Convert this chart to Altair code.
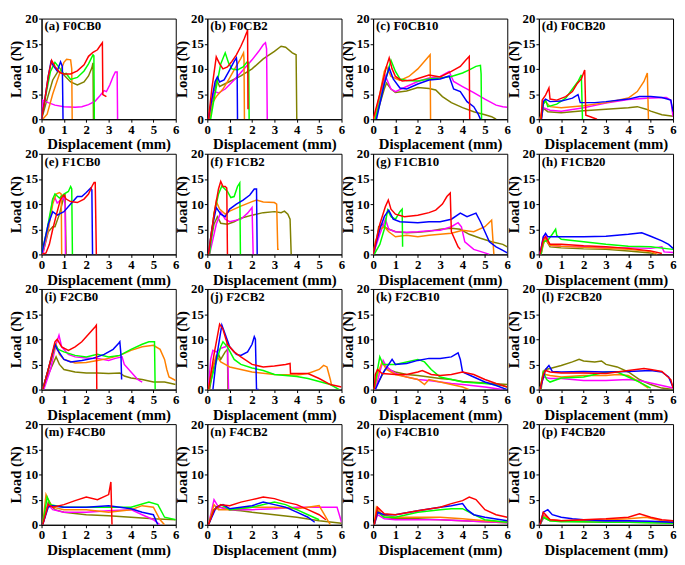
import altair as alt
import pandas as pd

COLORS = ["olive", "magenta", "orange", "green", "blue", "red"]
HEX = ["#808000", "#FF00FF", "#FF8000", "#00FF00", "#0000FF", "#FF0000"]

LABELS = ["(a) F0CB0", "(b) F0CB2", "(c) F0CB10", "(d) F0CB20",
          "(e) F1CB0", "(f) F1CB2", "(g) F1CB10", "(h) F1CB20",
          "(i) F2CB0", "(j) F2CB2", "(k) F2CB10", "(l) F2CB20",
          "(m) F4CB0", "(n) F4CB2", "(o) F4CB10", "(p) F4CB20"]

X_TICKS = [0, 1, 2, 3, 4, 5, 6]
Y_TICKS = [0, 5, 10, 15, 20]

A = {
    "red": [[0, 0], [0.15, 4], [0.3, 8.5], [0.45, 11.7], [0.6, 10.5], [0.8, 9.3], [1.0, 9.0], [1.3, 9.0], [1.6, 9.6], [1.9, 10.8], [2.1, 12.5], [2.3, 13.3], [2.5, 13.8], [2.62, 14.6], [2.72, 15.2], [2.74, 4.9], [2.9, 4.5]],
    "blue": [[0, 0], [0.15, 4], [0.3, 8.5], [0.42, 11.4], [0.55, 10.5], [0.7, 9.6], [0.85, 11.4], [0.93, 10.5], [0.96, 0]],
    "orange": [[0.05, 0], [0.25, 1], [0.5, 5], [0.8, 9], [1.0, 11.3], [1.12, 11.9], [1.3, 11.8], [1.35, 10], [1.37, 0]],
    "green": [[0, 0], [0.2, 5], [0.4, 9.5], [0.6, 11.3], [0.8, 10.2], [1.0, 9.0], [1.1, 9.1], [1.3, 7.9], [1.6, 8.3], [1.9, 9.6], [2.1, 11], [2.3, 12.8], [2.34, 12.6], [2.36, 0]],
    "olive": [[0, 0], [0.25, 4], [0.5, 7.8], [0.75, 9.6], [1.0, 8.8], [1.3, 7.4], [1.6, 6.8], [1.9, 7.4], [2.1, 8.6], [2.25, 10.2], [2.3, 11.2], [2.32, 0]],
    "magenta": [[0, 0], [0.05, 3.8], [0.3, 3.3], [0.6, 2.8], [1.0, 2.5], [1.5, 2.4], [1.8, 2.5], [2.1, 2.9], [2.4, 3.6], [2.6, 4.6], [2.8, 5.7], [2.9, 5.5], [3.05, 6.8], [3.2, 8.5], [3.3, 9.4], [3.38, 9.4], [3.4, 0]],
}
B = {
    "red": [[0.05, 0], [0.2, 6], [0.4, 12.4], [0.55, 11], [0.7, 10], [0.9, 10.4], [1.1, 11.5], [1.3, 12.8], [1.5, 14.5], [1.65, 16], [1.78, 17.5], [1.8, 17.8], [1.82, 2]],
    "green": [[0.15, 0], [0.3, 4], [0.45, 7.5], [0.6, 11], [0.8, 13.2], [0.95, 11.2], [1.1, 10], [1.35, 9.8], [1.6, 10.4], [1.8, 11.5], [1.85, 11], [1.87, 0]],
    "blue": [[0.05, 0], [0.2, 4], [0.35, 7.5], [0.45, 8.4], [0.55, 7.4], [0.75, 7.8], [1.0, 9.8], [1.2, 11.5], [1.3, 12.2], [1.33, 11], [1.35, 0]],
    "orange": [[0.1, 0], [0.2, 3], [0.4, 4.5], [0.7, 6], [1.0, 8.2], [1.3, 10.6], [1.5, 12.1], [1.62, 13.2], [1.64, 12], [1.66, 0]],
    "magenta": [[0.05, 0], [0.15, 3], [0.3, 5.5], [0.5, 5.2], [0.8, 6], [1.2, 7.8], [1.6, 9.8], [2.0, 11.8], [2.3, 13.5], [2.5, 14.8], [2.6, 15.2], [2.65, 14], [2.68, 0]],
    "olive": [[0.1, 0], [0.3, 5], [0.42, 7.8], [0.55, 6.5], [1.0, 7.5], [1.5, 8.6], [2.0, 10], [2.5, 12], [3.0, 13.5], [3.3, 14.5], [3.5, 14.3], [3.8, 13.2], [3.97, 12.8], [4.0, 0]],
}
C = {
    "red": [[0, 0], [0.3, 5], [0.6, 10.5], [0.72, 12.2], [0.85, 10], [1.0, 8.5], [1.3, 7.6], [1.8, 7.8], [2.5, 8.8], [3.0, 8.4], [3.5, 9.5], [3.9, 10.5], [4.1, 11.5], [4.3, 12.5], [4.32, 0]],
    "orange": [[0.05, 0], [0.3, 5], [0.5, 9.5], [0.6, 10.5], [0.8, 8.5], [1.2, 7.7], [1.6, 8.5], [2.0, 10], [2.3, 11.5], [2.55, 12.8], [2.57, 0]],
    "green": [[0.1, 0], [0.5, 7], [0.8, 11.7], [1.0, 9.5], [1.2, 8], [1.5, 7.7], [2.0, 7.6], [2.5, 8], [3.0, 8.2], [3.5, 8.5], [4.0, 9.2], [4.3, 9.8], [4.6, 10.5], [4.8, 10.7], [4.83, 9], [4.85, 0]],
    "blue": [[0.15, 0], [0.5, 7], [0.72, 10.2], [0.9, 8], [1.2, 6.2], [1.5, 6], [2.0, 7], [2.5, 7.8], [3.0, 8], [3.4, 8.6], [3.6, 6], [3.9, 5.5], [4.2, 3.5], [4.5, 2.5], [4.7, 1], [4.8, 0]],
    "magenta": [[0.05, 0], [0.3, 4.5], [0.55, 8.6], [0.8, 6], [1.0, 5.5], [1.5, 6.5], [2.0, 7.5], [2.5, 8.2], [3.0, 8.5], [3.4, 9.5], [3.6, 7.5], [4.0, 6.5], [4.5, 5.3], [5.0, 4], [5.5, 2.8], [5.8, 2.5], [6.0, 2.4]],
    "olive": [[0.1, 0], [0.5, 6], [0.6, 7.2], [0.8, 6], [1.0, 5.3], [1.5, 5.6], [2.0, 6.3], [2.5, 6.1], [2.8, 5.8], [3.1, 4.5], [3.5, 3.3], [4.0, 2.3], [4.5, 1.5], [5.0, 0.9], [5.3, 0.5], [5.5, 0]],
}
D = {
    "red": [[0.1, 0], [0.15, 3.8], [0.3, 4.8], [0.45, 6.2], [0.5, 4], [0.8, 3.8], [1.2, 4.5], [1.5, 5.5], [1.7, 7], [1.9, 8], [2.05, 9.8], [2.1, 0.8], [2.3, 0.5], [2.6, 0]],
    "green": [[0.1, 0], [0.2, 3], [0.3, 3.8], [0.4, 2.5], [0.8, 3], [1.2, 4.2], [1.5, 6], [1.75, 7.5], [1.9, 8.8], [1.95, 0]],
    "blue": [[0.12, 0], [0.2, 3.5], [0.3, 4], [0.5, 3.5], [1.0, 3.6], [1.5, 4.2], [1.75, 4.9], [1.85, 3.3], [2.5, 3.3], [3.0, 3.5], [4.0, 4], [4.5, 4.5], [5.0, 4.5], [5.5, 4.3], [5.9, 3.8], [6.0, 1.5]],
    "orange": [[0.05, 0], [0.2, 3], [0.3, 3.5], [0.5, 2.5], [1.0, 2.3], [2.0, 2.7], [3.0, 3.3], [4.0, 4.2], [4.4, 5.5], [4.7, 7.5], [4.85, 9.2], [4.9, 0]],
    "magenta": [[0.05, 0], [0.2, 2.3], [0.5, 1.8], [1.0, 1.6], [2.0, 2.3], [3.0, 3.2], [4.0, 3.9], [5.0, 4.2], [5.7, 4.3], [5.9, 3.8], [6.0, 0.5]],
    "olive": [[0.1, 0], [0.2, 2.2], [0.4, 1.5], [1.0, 1.3], [2.0, 1.7], [3.0, 2.0], [4.0, 2.3], [4.4, 2.5], [4.8, 2.0], [5.0, 1.6], [5.5, 0.9], [6.0, 0.6]],
}
E = {
    "red": [[0, 0], [0.2, 0.3], [0.35, 2], [0.5, 5], [0.7, 8.5], [0.85, 11], [1.0, 11.8], [1.1, 11], [1.3, 10.5], [1.6, 10.3], [1.9, 11], [2.1, 12], [2.25, 13.5], [2.35, 14.3], [2.4, 14.3], [2.45, 0]],
    "blue": [[0, 0], [0.1, 2], [0.3, 6], [0.5, 8.5], [0.7, 7.8], [1.0, 8.5], [1.3, 10], [1.6, 11.5], [1.8, 11.5], [2.0, 12.3], [2.2, 13.2], [2.25, 12.8], [2.28, 0]],
    "green": [[0, 0], [0.25, 5], [0.5, 11], [0.6, 12], [0.8, 11.2], [1.0, 12], [1.2, 12.5], [1.3, 13.5], [1.35, 13], [1.38, 0]],
    "orange": [[0, 0], [0.3, 5], [0.5, 10], [0.65, 12], [0.8, 12.3], [0.88, 12], [0.9, 0]],
    "magenta": [[0.05, 0], [0.3, 5], [0.5, 11], [0.6, 11.2], [0.7, 10.2], [0.85, 10.8], [1.0, 11.2], [1.05, 10], [1.07, 0]],
    "olive": [[0.05, 0], [0.3, 4.5], [0.5, 5.5], [0.6, 5.5], [0.8, 8], [1.0, 11.5], [1.05, 12], [1.1, 0]],
}
F = {
    "red": [[0.05, 0], [0.3, 8], [0.5, 13], [0.6, 14.5], [0.7, 13.5], [0.8, 13.5], [0.87, 13.2], [0.9, 0]],
    "green": [[0.1, 0], [0.3, 8], [0.5, 12], [0.65, 13.6], [0.9, 12.5], [1.05, 11.3], [1.2, 11.5], [1.35, 13.5], [1.45, 14.2], [1.48, 0]],
    "blue": [[0.05, 0], [0.2, 5], [0.4, 9.3], [0.6, 8], [0.8, 7.5], [1.0, 9], [1.3, 10], [1.6, 10.8], [1.9, 11.8], [2.1, 13], [2.2, 13], [2.23, 0]],
    "orange": [[0.05, 0], [0.3, 8], [0.4, 10.5], [0.55, 9], [0.8, 8], [1.0, 8.6], [1.5, 9.6], [2.0, 10.5], [2.2, 10.8], [2.5, 10.4], [3.0, 10.3], [3.1, 10], [3.15, 1], [3.2, 1]],
    "magenta": [[0.1, 0], [0.4, 6], [0.6, 8.4], [0.8, 7], [1.0, 6.5], [1.5, 7], [1.8, 8.2], [2.0, 9.3], [2.05, 0]],
    "olive": [[0.05, 0], [0.3, 6], [0.45, 7.5], [0.6, 6.2], [0.9, 6], [1.2, 6.5], [1.5, 7.2], [2.0, 7.8], [2.5, 8.3], [3.0, 8.5], [3.3, 8.3], [3.45, 8.6], [3.6, 8], [3.7, 7], [3.75, 0]],
}
G = {
    "red": [[0, 0], [0.3, 6], [0.55, 9.5], [0.68, 10.8], [0.8, 9], [1.0, 8], [1.4, 7.5], [2.0, 7.8], [2.5, 8.3], [2.8, 8.8], [3.1, 10], [3.3, 11.5], [3.45, 12.2], [3.5, 4.5], [3.6, 3.5], [3.8, 1.5], [3.9, 1]],
    "blue": [[0, 0], [0.3, 5], [0.5, 7.5], [0.7, 8.8], [0.9, 7], [1.2, 6.5], [2.0, 6.3], [2.5, 6.5], [3.0, 6.5], [3.5, 7], [3.9, 8.2], [4.2, 7.5], [4.6, 8.2], [4.8, 6.5], [5.0, 4.5], [5.2, 2.5], [5.5, 1.5], [5.8, 0.8], [6.0, 0.3]],
    "green": [[0.05, 0], [0.3, 2], [0.5, 5], [0.65, 8.8], [0.8, 7.5], [1.0, 7], [1.2, 8.5], [1.3, 9], [1.32, 1.5]],
    "orange": [[0, 0], [0.1, 2.5], [0.3, 5], [0.5, 5.5], [0.7, 4.5], [1.0, 3.5], [1.5, 3.8], [2.0, 3.5], [2.5, 3.8], [3.0, 4.0], [3.5, 4.2], [4.0, 4.8], [4.5, 4.5], [5.0, 5.5], [5.3, 6.8], [5.4, 0]],
    "magenta": [[0, 0], [0.3, 4], [0.55, 7], [0.7, 5], [1.0, 4.5], [1.5, 4.4], [2.0, 4.5], [2.5, 4.7], [3.0, 4.8], [3.5, 5.5], [3.8, 6.3], [3.95, 5.5], [4.1, 2.5], [4.5, 1], [5.0, 0.3], [5.2, 0]],
    "olive": [[0.05, 0], [0.25, 5.5], [0.4, 6], [0.6, 5.2], [1.0, 4.5], [1.5, 4.3], [2.0, 4.4], [2.5, 4.6], [3.0, 5], [3.5, 5.2], [3.9, 5], [4.3, 4], [4.8, 3.2], [5.3, 2.5], [5.8, 2], [6.0, 1.5]],
}
H_ = {
    "blue": [[0.05, 0], [0.2, 3.5], [0.3, 4.2], [0.4, 3.5], [1.0, 3.5], [2.0, 3.5], [3.0, 3.6], [4.0, 4.0], [4.6, 4.3], [5.0, 3.6], [5.5, 2.7], [5.8, 2], [6.0, 1.2]],
    "green": [[0.1, 0], [0.2, 2.5], [0.4, 2.8], [0.6, 4.0], [0.75, 5.0], [0.8, 3.8], [1.0, 3.0], [2.0, 2.5], [3.0, 2.0], [4.0, 1.6], [5.0, 1.5], [5.8, 1.1], [6.0, 1.0]],
    "red": [[0.05, 0], [0.2, 3], [0.3, 3.5], [0.5, 2], [1.0, 2.0], [2.0, 1.7], [3.0, 1.5], [4.0, 1.2], [5.0, 0.7], [5.5, 0.2]],
    "orange": [[0.1, 0], [0.2, 2], [0.3, 3.0], [0.5, 1.8], [1.0, 1.6], [2.0, 1.4], [3.0, 1.2], [4.0, 1.0], [5.0, 0.6], [5.3, 0]],
    "magenta": [[0.05, 0], [0.2, 3.5], [0.3, 4.0], [0.5, 1.8], [1.0, 1.6], [2.0, 1.5], [3.0, 1.3], [4.0, 1.3], [5.0, 1.2], [5.5, 1.5], [5.6, 0.5], [6.0, 0.4]],
    "olive": [[0.05, 0], [0.2, 2.5], [0.3, 3], [0.5, 1.5], [1.0, 1.3], [2.0, 1.1], [3.0, 1.0], [4.0, 0.7], [5.0, 0.3], [5.2, 0]],
}
I = {
    "red": [[0.05, 0], [0.3, 4], [0.6, 9.5], [0.7, 10], [0.9, 8.5], [1.2, 7.8], [1.5, 8.5], [1.8, 9.5], [2.1, 11], [2.4, 12.5], [2.45, 12.8], [2.47, 0]],
    "blue": [[0.05, 0], [0.3, 4], [0.6, 9], [0.7, 8], [1.0, 6], [1.3, 5.5], [1.8, 5.8], [2.3, 6.2], [2.8, 7], [3.2, 8], [3.45, 9.2], [3.5, 9.5], [3.55, 7], [3.58, 2]],
    "green": [[0.05, 0], [0.3, 4], [0.6, 9], [0.75, 8], [1.0, 7.5], [1.5, 6.8], [2.0, 6.5], [2.5, 7], [3.0, 6.5], [3.5, 6.8], [4.0, 8], [4.5, 9], [4.8, 9.5], [5.05, 9.5], [5.08, 0]],
    "orange": [[0.05, 0], [0.3, 4], [0.65, 9], [0.8, 7], [1.0, 6], [1.5, 5.3], [2.0, 5.4], [2.5, 5.8], [3.0, 6.2], [3.5, 6.8], [4.0, 7.8], [4.5, 8.5], [5.0, 8.8], [5.3, 8], [5.5, 6], [5.6, 4], [5.7, 2.5], [6.0, 1.8]],
    "magenta": [[0.1, 0], [0.4, 4], [0.65, 9], [0.78, 10.8], [0.9, 8.5], [1.2, 7], [1.5, 6.5], [2.0, 6.3], [2.5, 6.2], [3.0, 5.8], [3.3, 6.2], [3.6, 6.5], [3.7, 5], [4.0, 3.5], [4.3, 2], [4.5, 1.5]],
    "olive": [[0.05, 0], [0.3, 3], [0.65, 6.5], [0.8, 5], [1.0, 4], [1.5, 3.5], [2.0, 3.3], [2.5, 3.3], [3.0, 3.2], [3.5, 3.3], [3.7, 2.7], [4.0, 2.3], [4.5, 2], [5.0, 1.5], [5.5, 1.5], [6.0, 1]],
}
J = {
    "red": [[0.05, 0], [0.3, 7], [0.55, 13], [0.7, 12], [0.9, 9], [1.2, 7.5], [1.5, 6.5], [2.0, 5], [2.5, 4.5], [3.0, 4.7], [3.5, 5], [3.7, 5.2], [3.72, 3.2], [4.0, 3.2], [4.5, 3.2], [5.0, 2.2], [5.5, 1], [6.0, 0.5]],
    "blue": [[0.25, 0], [0.4, 6], [0.6, 11.5], [0.65, 12.8], [0.8, 11], [1.0, 8.5], [1.3, 7], [1.5, 6.8], [1.8, 7.5], [2.0, 9], [2.1, 10.5], [2.15, 10], [2.2, 0], [2.3, 0]],
    "green": [[0.05, 0], [0.3, 4], [0.6, 8.5], [0.7, 9.5], [0.9, 8.5], [1.2, 6], [1.5, 5], [2.0, 4.3], [2.5, 3.8], [3.0, 3.0], [3.5, 2.8], [4.0, 2.6], [4.5, 2.2], [5.0, 1.6], [5.5, 1.0], [5.9, 0]],
    "orange": [[0.05, 0], [0.2, 4], [0.4, 6.8], [0.6, 5.5], [0.8, 5], [1.0, 4.5], [1.5, 4.0], [2.0, 3.5], [3.0, 3.0], [4.0, 2.9], [4.5, 3.2], [5.0, 4.0], [5.2, 4.8], [5.35, 4.5], [5.5, 2], [5.55, 1]],
    "magenta": [[0.05, 0], [0.15, 6], [0.25, 7.8], [0.4, 7.5], [0.6, 8.2], [0.8, 8.5], [0.9, 9.2], [0.95, 0]],
    "olive": [[0.1, 0], [0.3, 5], [0.5, 7], [0.6, 6], [0.8, 7.5], [0.9, 8], [0.92, 0]],
}
K = {
    "green": [[0.05, 0], [0.2, 4], [0.3, 6.5], [0.45, 5], [0.7, 5], [1.0, 5], [1.5, 5.5], [2.0, 6], [2.3, 5.5], [2.6, 4], [3.0, 2.5], [3.5, 2], [4.0, 1.5], [5.0, 1.2], [5.8, 0.8], [6.0, 0.5]],
    "blue": [[0.1, 0], [0.4, 3], [0.7, 5], [0.85, 6], [1.0, 5], [1.5, 5.2], [2.0, 5.8], [2.5, 6.2], [3.0, 6.2], [3.5, 6.5], [3.8, 7.3], [3.9, 6], [4.0, 3.5], [4.5, 2.5], [5.0, 1.5], [5.5, 0.8], [6.0, 0]],
    "red": [[0.05, 0], [0.1, 3], [0.2, 4], [0.4, 3.2], [1.0, 3.0], [1.5, 3.0], [2.0, 3.5], [2.2, 3.8], [2.6, 3.0], [3.0, 2.8], [3.5, 3.0], [4.0, 3.5], [4.5, 3.0], [5.0, 2.0], [5.5, 1.2], [6.0, 0.5]],
    "magenta": [[0.1, 0], [0.3, 3.5], [0.45, 5.8], [0.6, 4.5], [1.0, 3.2], [1.5, 2.5], [2.0, 2.0], [2.5, 1.8], [3.0, 1.5], [3.5, 1.2], [4.0, 1.0], [5.0, 0.5], [5.8, 0]],
    "orange": [[0.05, 0], [0.2, 3], [0.4, 5.5], [0.6, 4], [1.0, 3.0], [1.5, 2.5], [2.0, 2.0], [2.3, 1.0], [2.5, 2.0], [3.0, 1.5], [3.5, 1.0], [4.0, 0.5], [4.3, 0]],
    "olive": [[0.05, 0], [0.3, 2], [0.6, 4.5], [0.8, 3.8], [1.0, 3.5], [1.5, 3.0], [2.0, 2.8], [2.5, 2.5], [3.0, 2.2], [3.5, 2.0], [4.0, 1.6], [5.0, 1.3], [6.0, 1.0]],
}
L = {
    "olive": [[0.1, 0], [0.2, 3.5], [0.3, 4], [0.5, 4.2], [1.0, 4.8], [1.5, 5.5], [1.8, 6.0], [2.0, 5.7], [2.5, 5.5], [2.8, 5.7], [3.0, 5.0], [3.5, 4.5], [4.0, 3.5], [4.5, 2.0], [5.0, 1.0], [5.5, 0.3], [6.0, 0]],
    "blue": [[0.05, 0], [0.3, 4], [0.45, 4.8], [0.6, 3.6], [1.0, 3.5], [2.0, 3.6], [3.0, 3.5], [4.0, 3.6], [5.0, 3.8], [5.5, 3.5], [5.8, 2.5], [6.0, 0.5]],
    "red": [[0.05, 0], [0.2, 3], [0.3, 3.8], [0.5, 3.5], [1.0, 3.3], [2.0, 3.3], [3.0, 3.2], [4.0, 3.8], [4.7, 4.2], [5.0, 4.0], [5.5, 3.6], [5.9, 2.0], [6.0, 0.3]],
    "green": [[0.05, 0], [0.2, 3.5], [0.35, 2], [0.5, 1.5], [1.0, 2.3], [2.0, 2.5], [2.5, 3.0], [3.0, 3.5], [3.5, 3.5], [4.0, 2.5], [4.5, 1.5], [5.0, 0.3]],
    "orange": [[0.05, 0], [0.2, 3.5], [0.3, 3.0], [0.5, 2.8], [1.0, 2.5], [2.0, 2.8], [3.0, 2.8], [3.5, 3.0], [4.0, 2.8], [4.5, 1.5], [4.9, 0.3]],
    "magenta": [[0.05, 0], [0.2, 2.5], [0.5, 2.2], [1.0, 2.2], [2.0, 1.8], [3.0, 1.8], [4.0, 2.0], [4.5, 1.8], [5.0, 1.3], [5.5, 0.8], [6.0, 0.3]],
}
M = {
    "red": [[0.05, 0], [0.3, 4], [0.5, 3.5], [1.0, 4], [1.5, 4.8], [2.0, 5.5], [2.5, 5], [3.0, 6], [3.1, 8.5], [3.15, 0]],
    "orange": [[0.05, 0], [0.2, 6], [0.3, 5], [0.5, 3.5], [1.0, 3], [2.0, 3], [3.0, 2.5], [4.0, 3], [4.5, 3.8], [5.0, 3.5], [5.3, 1], [5.5, 0]],
    "green": [[0.05, 0], [0.25, 5.5], [0.4, 4], [1.0, 3.5], [2.0, 3.5], [3.0, 3.5], [4.0, 3.5], [4.8, 4.5], [5.2, 4], [5.5, 1.5], [6.0, 1]],
    "blue": [[0.05, 0], [0.3, 3.5], [0.5, 3.8], [1.0, 3.5], [2.0, 3.5], [3.0, 3.8], [4.0, 3.2], [4.5, 2.5], [5.0, 2], [5.2, 0]],
    "magenta": [[0.05, 0], [0.3, 4], [0.5, 3], [1.0, 2.5], [2.0, 2.5], [3.0, 2.8], [4.0, 3], [4.5, 2], [5.0, 1], [5.3, 0]],
    "olive": [[0.05, 0], [0.3, 4.5], [0.6, 3], [1.0, 2.5], [2.0, 2.0], [3.0, 1.8], [4.0, 1.5], [5.0, 1.2], [6.0, 1.0]],
}
N = {
    "red": [[0.05, 0], [0.3, 3], [0.6, 4], [1.0, 3.8], [1.5, 4.5], [2.0, 5], [2.5, 5.5], [3.0, 5.2], [3.5, 4.5], [4.0, 4], [4.5, 3], [5.0, 2], [5.3, 1]],
    "orange": [[0.05, 0], [0.3, 4], [0.5, 3], [1.0, 3], [2.0, 3.5], [3.0, 3.5], [4.0, 3.2], [4.5, 3.5], [5.0, 3.8], [5.3, 1.5], [5.5, 0]],
    "magenta": [[0.05, 0], [0.3, 5], [0.5, 3.5], [1.0, 3], [2.0, 3], [3.0, 3.2], [4.0, 3.5], [5.0, 3.5], [5.8, 3.5], [6.0, 0.5]],
    "green": [[0.05, 0], [0.3, 3], [0.6, 4], [1.0, 3], [2.0, 3.5], [3.0, 4.5], [3.5, 4], [4.0, 3], [4.5, 2], [5.0, 1]],
    "blue": [[0.05, 0], [0.4, 3.5], [0.7, 4], [1.0, 3.2], [2.0, 3.8], [2.5, 4.5], [3.0, 4], [3.5, 3.5], [4.0, 2.5], [4.5, 1.5], [4.8, 0.5]],
    "olive": [[0.05, 0], [0.3, 3], [0.6, 3.5], [1.0, 3], [1.5, 2.8], [2.0, 2.5], [3.0, 2.0], [4.0, 1.5], [5.0, 0.8], [6.0, 0.3]],
}
O = {
    "red": [[0.05, 0], [0.2, 3.5], [0.5, 2.2], [1.0, 2.0], [2.0, 2.8], [3.0, 3.5], [3.5, 4.2], [4.0, 4.8], [4.3, 5.5], [4.6, 5], [5.0, 3], [5.5, 2], [6.0, 1.5]],
    "blue": [[0.05, 0], [0.2, 2.5], [0.5, 2], [1.0, 2], [2.0, 2.8], [3.0, 3.5], [3.5, 3.8], [4.0, 4.2], [4.2, 3], [4.5, 2], [5.0, 1.5], [6.0, 0.8]],
    "green": [[0.05, 0], [0.2, 2.5], [0.5, 1.5], [1.0, 1.5], [2.0, 2.5], [3.0, 3.0], [3.5, 3.2], [4.0, 3.2], [4.5, 2], [5.0, 1], [6.0, 0.5]],
    "orange": [[0.05, 0], [0.15, 3.5], [0.4, 2], [1.0, 1.5], [2.0, 1.5], [3.0, 1.5], [4.0, 1.2], [5.0, 0.8], [6.0, 0.5]],
    "magenta": [[0.05, 0], [0.2, 2], [0.5, 1.2], [1.0, 1.0], [2.0, 1.0], [3.0, 1.0], [4.0, 0.8], [5.0, 0.6], [6.0, 0.4]],
    "olive": [[0.05, 0], [0.2, 2.8], [0.5, 1.5], [1.0, 1.2], [2.0, 1.2], [3.0, 1.0], [4.0, 0.8], [5.0, 0.6], [6.0, 0.4]],
}
P = {
    "blue": [[0.05, 0], [0.2, 2.5], [0.4, 3], [0.6, 2], [1.0, 1.5], [1.5, 1.2], [2.0, 1.0], [3.0, 0.8], [4.0, 0.8], [5.0, 0.7], [6.0, 0.5]],
    "red": [[0.05, 0], [0.2, 2.5], [0.5, 1], [1.0, 0.8], [2.0, 1.0], [3.0, 1.2], [4.0, 1.5], [4.5, 2.2], [5.0, 1.5], [5.5, 1.0], [6.0, 0.8]],
    "orange": [[0.05, 0], [0.2, 1.8], [0.5, 1], [1.0, 0.8], [2.0, 0.9], [3.0, 1.0], [4.0, 1.2], [4.8, 1.5], [5.5, 0.8], [6.0, 0.6]],
    "magenta": [[0.05, 0], [0.3, 2], [0.5, 1], [1.0, 0.8], [2.0, 0.7], [3.0, 0.7], [4.0, 0.6], [5.0, 0.6], [6.0, 0.5]],
    "green": [[0.05, 0], [0.2, 1.5], [0.5, 0.8], [1.0, 0.6], [2.0, 0.6], [3.0, 0.5], [4.0, 0.5], [5.0, 0.4], [6.0, 0.3]],
    "olive": [[0.05, 0], [0.2, 1.5], [0.5, 0.8], [2.0, 0.6], [4.0, 0.5], [6.0, 0.4]],
}

PANELS = [A, B, C, D, E, F, G, H_, I, J, K, L, M, N, O, P]

W, H = 136, 102
FONT = "Liberation Serif"


def panel(label, curves):
    rows = []
    for c in COLORS:
        for i, (x, y) in enumerate(curves.get(c, [])):
            rows.append({"curve": c, "i": i, "x": x, "y": y})
    df = pd.DataFrame(rows)
    lines = alt.Chart(df).mark_line(strokeWidth=1.5, clip=True).encode(
        x=alt.X("x:Q", scale=alt.Scale(domain=[0, 6], nice=False),
                axis=alt.Axis(values=X_TICKS, title="Displacement (mm)", format="d")),
        y=alt.Y("y:Q", scale=alt.Scale(domain=[0, 20], nice=False),
                axis=alt.Axis(values=Y_TICKS, title="Load (N)", format="d")),
        color=alt.Color("curve:N", scale=alt.Scale(domain=COLORS, range=HEX), legend=None),
        detail="curve:N",
        order="i:Q",
    )
    txt = alt.Chart(pd.DataFrame({"t": [label]})).mark_text(
        align="left", baseline="top", font=FONT, fontWeight="bold",
        fontSize=13, color="black"
    ).encode(text="t:N", x=alt.value(3), y=alt.value(2))
    return alt.layer(lines, txt).properties(width=W, height=H)


charts = [panel(lbl, cv) for lbl, cv in zip(LABELS, PANELS)]

chart = alt.concat(
    *charts, columns=4, bounds="flush",
    spacing={"row": 35, "column": 32},
).properties(
    padding={"left": 0, "top": 0, "right": 0, "bottom": 0}
).configure_axis(
    grid=False,
    labelFont=FONT, labelFontWeight="bold", labelFontSize=13, labelColor="black",
    titleFont=FONT, titleFontWeight="bold", titleFontSize=15, titleColor="black",
    domainColor="black", tickColor="black", tickSize=3,
    labelPadding=1, titlePadding=1, labelFlush=False, labelOverlap=False,
).configure_view(stroke="black", strokeWidth=1)

chart.save("out.html", embed_options={"renderer": "svg", "actions": False})
